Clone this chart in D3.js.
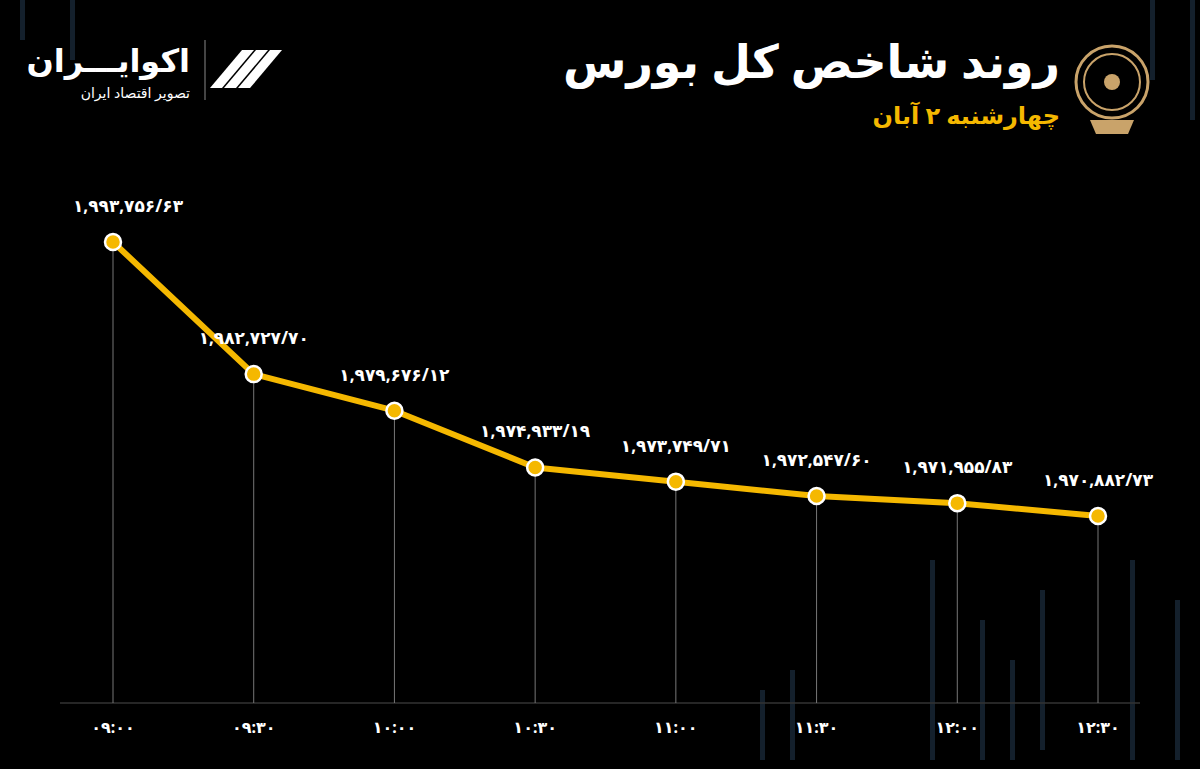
<!DOCTYPE html>
<html><head><meta charset="utf-8">
<script src="https://cdn.jsdelivr.net/npm/d3@7"></script>
<style>body{margin:0;background:#000;}svg{display:block;font-family:"Noto Sans","DejaVu Sans",sans-serif;}</style>
</head><body><div id="chart"></div>
<script>
// chart data
const times = ["۰۹:۰۰", "۰۹:۳۰", "۱۰:۰۰", "۱۰:۳۰", "۱۱:۰۰", "۱۱:۳۰", "۱۲:۰۰", "۱۲:۳۰"];
const values = [1993756.63, 1982727.70, 1979676.12, 1974933.19, 1973749.71, 1972547.60, 1971955.83, 1970882.73];
const labels = ["۱,۹۹۳,۷۵۶/۶۳", "۱,۹۸۲,۷۲۷/۷۰", "۱,۹۷۹,۶۷۶/۱۲", "۱,۹۷۴,۹۳۳/۱۹", "۱,۹۷۳,۷۴۹/۷۱", "۱,۹۷۲,۵۴۷/۶۰", "۱,۹۷۱,۹۵۵/۸۳", "۱,۹۷۰,۸۸۲/۷۳"];

const W = 1200, H = 769;
const svg = d3.select("#chart").append("svg").attr("width", W).attr("height", H);
svg.append("rect").attr("width", W).attr("height", H).attr("fill", "#000");

// faint background candles
const deco = [[20,0,40],[70,0,60],[1040,590,160],[1130,560,200],[1175,600,160],[760,690,70],[790,670,90],[980,620,140],[1010,660,100],[930,560,200],[1150,0,80],[1190,0,120]];
svg.selectAll(".deco").data(deco).enter().append("rect")
  .attr("x", d => d[0]).attr("y", d => d[1]).attr("width", 5).attr("height", d => d[2])
  .attr("fill", "#14202c");

const x = d3.scalePoint().domain(times).range([113, 1098]);
const y = d3.scaleLinear().domain([1970882.73, 1993756.63]).range([516, 242]);
const base = 703;

// baseline
svg.append("line").attr("x1", 60).attr("x2", 1140).attr("y1", base).attr("y2", base)
  .attr("stroke", "#333").attr("stroke-width", 1.5);

// drop lines
svg.selectAll(".drop").data(values).enter().append("line")
  .attr("x1", (d, i) => x(times[i])).attr("x2", (d, i) => x(times[i]))
  .attr("y1", d => y(d)).attr("y2", base)
  .attr("stroke", "#777").attr("stroke-width", 1);

// line
svg.append("path").datum(values)
  .attr("d", d3.line().x((d, i) => x(times[i])).y(d => y(d)))
  .attr("fill", "none").attr("stroke", "#f5b800").attr("stroke-width", 6).attr("stroke-linejoin", "round");

svg.selectAll(".dot").data(values).enter().append("circle")
  .attr("cx", (d, i) => x(times[i])).attr("cy", d => y(d)).attr("r", 8)
  .attr("fill", "#f5b800").attr("stroke", "#fff").attr("stroke-width", 2.5);

// value labels
svg.selectAll(".val").data(values).enter().append("text")
  .attr("x", (d, i) => x(times[i]) + (i === 0 ? 15 : 0)).attr("y", d => y(d) - 30)
  .attr("text-anchor", "middle").attr("fill", "#fff").attr("font-size", 17).attr("font-weight", "bold")
  .text((d, i) => labels[i]);

// x axis labels
svg.selectAll(".tick").data(times).enter().append("text")
  .attr("x", d => x(d)).attr("y", 733).attr("text-anchor", "middle")
  .attr("fill", "#fff").attr("font-size", 16).attr("font-weight", "bold").text(d => d);

// title
svg.append("text").attr("x", 1060).attr("y", 78).attr("text-anchor", "end")
  .attr("fill", "#fff").attr("font-size", 46).attr("font-weight", "bold").text("روند شاخص کل بورس");
svg.append("text").attr("x", 1060).attr("y", 124).attr("text-anchor", "end")
  .attr("fill", "#f5b800").attr("font-size", 24).attr("font-weight", "bold").text("چهارشنبه ۲ آبان");

// exchange emblem
const em = svg.append("g").attr("transform", "translate(1112,82)");
em.append("circle").attr("r", 36).attr("fill", "none").attr("stroke", "#c9a36a").attr("stroke-width", 3);
em.append("circle").attr("r", 28).attr("fill", "none").attr("stroke", "#c9a36a").attr("stroke-width", 2);
em.append("circle").attr("r", 8).attr("fill", "#c9a36a");
em.append("path").attr("d", "M-22,38 L22,38 L16,52 L-16,52 Z").attr("fill", "#c9a36a");

// left logo
svg.append("text").attr("x", 190).attr("y", 72).attr("text-anchor", "end")
  .attr("fill", "#fff").attr("font-size", 32).attr("font-weight", "bold").text("اکوایـــران");
svg.append("text").attr("x", 190).attr("y", 98).attr("text-anchor", "end")
  .attr("fill", "#fff").attr("font-size", 14).text("تصویر اقتصاد ایران");
svg.append("line").attr("x1", 205).attr("x2", 205).attr("y1", 40).attr("y2", 100).attr("stroke", "#888");
const lg = svg.append("g").attr("transform", "translate(252,70)");
[-14, 0, 14].forEach(o => lg.append("path")
  .attr("d", `M${-28 + o},${18} L${o + 4},${-20} L${o + 16},${-20} L${-16 + o},${18} Z`)
  .attr("fill", "#fff"));
</script></body></html>
